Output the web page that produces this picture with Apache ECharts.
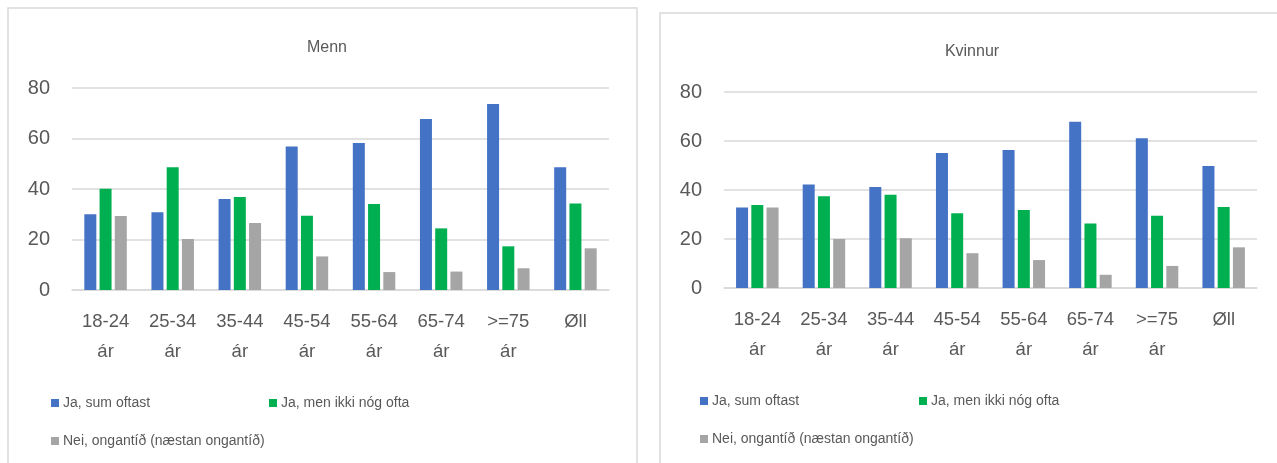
<!DOCTYPE html>
<html>
<head>
<meta charset="utf-8">
<script src="https://cdn.jsdelivr.net/npm/echarts@6/dist/echarts.min.js"></script>
<style>
  html, body { margin: 0; padding: 0; background: #ffffff; }
  #chart { width: 1277px; height: 463px; }
</style>
</head>
<body>
<div id="chart"></div>
<script>
// Age groups shown on both panels
const categories = ['18-24\nár', '25-34\nár', '35-44\nár', '45-54\nár', '55-64\nár', '65-74\nár', '>=75\nár', 'Øll'];
const seriesNames = ['Ja, sum oftast', 'Ja, men ikki nóg ofta', 'Nei, ongantíð (næstan ongantíð)'];
const yTicks = [0, 20, 40, 60, 80];

// Menn (%)
const mennOftast = [30.0, 30.8, 36.0, 56.8, 58.2, 67.7, 73.7, 48.6];
const mennIkkiNog = [40.1, 48.6, 36.8, 29.4, 34.1, 24.4, 17.3, 34.3];
const mennOngantid = [29.3, 20.2, 26.5, 13.3, 7.1, 7.3, 8.6, 16.5];

// Kvinnur (%)
const kvinnurOftast = [32.9, 42.2, 41.2, 55.1, 56.3, 67.9, 61.1, 49.8];
const kvinnurIkkiNog = [33.9, 37.4, 38.1, 30.5, 31.8, 26.3, 29.5, 33.1];
const kvinnurOngantid = [32.9, 20.0, 20.3, 14.2, 11.4, 5.4, 9.0, 16.6];

const colors = ['#4472C4', '#00B050', '#A5A5A5'];
const textColor = '#595959';
const gridColor = '#d9d9d9';
const font = 'Liberation Sans';

const chart = echarts.init(document.getElementById('chart'), null, { renderer: 'canvas' });

function xAxisFor(gridIndex) {
  return {
    type: 'category', gridIndex, data: categories,
    axisLine: { show: true, lineStyle: { color: gridColor, width: 1.5 } },
    axisTick: { show: false },
    axisLabel: { color: textColor, fontSize: 18.5, fontFamily: font, lineHeight: 30, margin: 17, interval: 0 }
  };
}
function yAxisFor(gridIndex) {
  return {
    type: 'value', gridIndex, min: yTicks[0], max: yTicks[yTicks.length - 1], interval: 20,
    axisLine: { show: false }, axisTick: { show: false },
    splitLine: { lineStyle: { color: gridColor, width: 1.5 } },
    axisLabel: { color: textColor, fontSize: 20, fontFamily: font, margin: 22 }
  };
}
function barSeries(name, data, idx, axisIdx) {
  return {
    type: 'bar', name, data, xAxisIndex: axisIdx, yAxisIndex: axisIdx,
    barWidth: 12, barGap: '27%',
    itemStyle: { color: colors[idx] },
    emphasis: { disabled: true }
  };
}
function legendItem(name, left, top) {
  return {
    data: [name], left, top, padding: 0, itemWidth: 8, itemHeight: 8, itemGap: 0,
    icon: 'rect', selectedMode: false,
    textStyle: { color: textColor, fontSize: 14, fontFamily: font, padding: [0, 0, 0, -1] }
  };
}

chart.setOption({
  animation: false,
  color: colors,
  textStyle: { fontFamily: font },
  title: [
    { text: 'Menn', left: 322, top: 35, textAlign: 'center',
      textStyle: { color: textColor, fontSize: 16, fontWeight: 'normal', fontFamily: font } },
    { text: 'Kvinnur', left: 967, top: 39, textAlign: 'center',
      textStyle: { color: textColor, fontSize: 16, fontWeight: 'normal', fontFamily: font } }
  ],
  graphic: [
    { type: 'rect', shape: { x: 8, y: 8, width: 629, height: 470 }, silent: true,
      style: { fill: 'none', stroke: gridColor, lineWidth: 1.5 } },
    { type: 'rect', shape: { x: 660, y: 13, width: 640, height: 470 }, silent: true,
      style: { fill: 'none', stroke: gridColor, lineWidth: 1.5 } }
  ],
  legend: [
    legendItem(seriesNames[0], 51, 396),
    legendItem(seriesNames[1], 269, 396),
    legendItem(seriesNames[2], 51, 434),
    legendItem(seriesNames[0], 700, 394),
    legendItem(seriesNames[1], 919, 394),
    legendItem(seriesNames[2], 700, 432)
  ],
  grid: [
    { left: 72, top: 88, width: 537, height: 202 },
    { left: 724, top: 92, width: 533, height: 196 }
  ],
  xAxis: [xAxisFor(0), xAxisFor(1)],
  yAxis: [yAxisFor(0), yAxisFor(1)],
  series: [
    barSeries(seriesNames[0], mennOftast, 0, 0),
    barSeries(seriesNames[1], mennIkkiNog, 1, 0),
    barSeries(seriesNames[2], mennOngantid, 2, 0),
    barSeries(seriesNames[0], kvinnurOftast, 0, 1),
    barSeries(seriesNames[1], kvinnurIkkiNog, 1, 1),
    barSeries(seriesNames[2], kvinnurOngantid, 2, 1)
  ]
});
</script>
</body>
</html>
